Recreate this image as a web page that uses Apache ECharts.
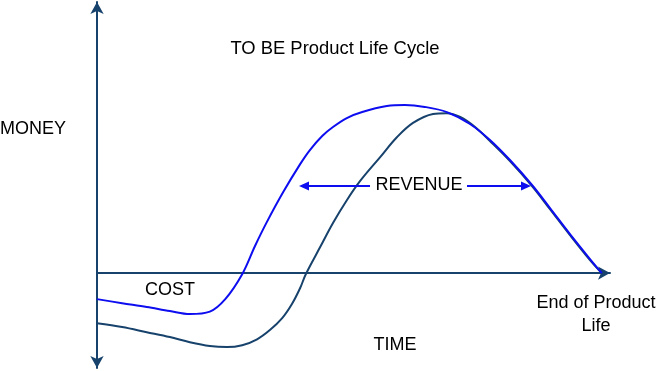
<!DOCTYPE html>
<html>
<head>
<meta charset="utf-8">
<script src="https://cdn.jsdelivr.net/npm/echarts@6/dist/echarts.min.js"></script>
<style>html,body{margin:0;padding:0;background:#fff}#c{width:658px;height:371px}</style>
</head>
<body>
<div id="c"></div>
<script>
// TO BE curve (blue): [time, money]
const toBeTime  = [0, 4.9, 9.7, 14.2, 18.1, 22.0, 25.0, 28.3, 30.8, 33.1, 36.3, 39.6, 41.5, 43.9, 46.0, 48.7, 51.7, 56.5, 60.0, 63.9, 68.2, 72.7, 76.6, 80.5, 84.8, 88.3, 92.2, 96.1, 98.4];
const toBeMoney = [-9.6, -11.1, -12.5, -14.0, -15.1, -14.2, -9.6, -0.4, 10.0, 18.8, 29.9, 40.2, 45.4, 50.6, 53.9, 57.2, 59.4, 61.6, 62.0, 61.3, 59.4, 55.0, 49.1, 41.7, 32.5, 24.0, 14.4, 5.2, 0];
// AS IS curve (dark navy): [time, money]
const asIsTime  = [0, 4.9, 9.7, 14.2, 18.1, 22.0, 25.3, 28.3, 31.2, 33.7, 36.1, 38.0, 39.6, 40.7, 43.5, 46.0, 48.7, 51.3, 55.2, 58.5, 61.6, 65.5, 68.2, 70.8, 73.7, 76.6, 80.5, 84.8, 88.3, 92.2, 96.1, 98.4];
const asIsMoney = [-18.5, -19.9, -21.8, -23.6, -25.5, -26.9, -27.3, -26.6, -24.4, -21.0, -16.6, -11.4, -5.5, -0.4, 9.6, 18.5, 26.9, 34.0, 42.8, 50.2, 55.4, 58.7, 59.0, 57.6, 53.9, 48.7, 41.3, 32.1, 23.6, 14.0, 4.8, 0];

const NAVY = '#17426c';
const BLUE = '#0d0df0';
const FONT = '"Liberation Sans", Arial, sans-serif';

const zip = (xs, ys) => xs.map((x, i) => [x, ys[i]]);

const chart = echarts.init(document.getElementById('c'), null, {renderer: 'canvas'});

function txt(x, y, s, align, size) {
  return {
    type: 'text', x: x, y: y, z: 10,
    style: {text: s, fill: '#000', font: (size || 18) + 'px ' + FONT, align: align || 'center', verticalAlign: 'middle', lineHeight: 23}
  };
}
function arrow(x1, x2, y) {
  const dir = x2 > x1 ? 1 : -1;
  const head = 10;
  return [
    {type: 'line', z: 10, shape: {x1: x1, y1: y, x2: x2 - dir * head, y2: y}, style: {stroke: BLUE, lineWidth: 2}},
    {type: 'polygon', z: 10, shape: {points: [[x2, y], [x2 - dir * head, y - 4.5], [x2 - dir * head, y + 4.5]]}, style: {fill: BLUE}}
  ];
}

chart.setOption({
  animation: false,
  grid: {left: 97, right: 48, top: 2, bottom: 3, containLabel: false},
  xAxis: {
    type: 'value', min: 0, max: 100,
    axisLine: {show: true, onZero: true, symbol: ['none', 'arrow'], symbolSize: [10, 12], lineStyle: {color: NAVY, width: 2}},
    axisTick: {show: false}, axisLabel: {show: false}, splitLine: {show: false}
  },
  yAxis: {
    type: 'value', min: -35, max: 100,
    axisLine: {show: true, onZero: false, symbol: ['arrow', 'arrow'], symbolSize: [10, 12], lineStyle: {color: NAVY, width: 2}},
    axisTick: {show: false}, axisLabel: {show: false}, splitLine: {show: false}
  },
  series: [
    {type: 'line', data: zip(asIsTime, asIsMoney), smooth: 0.35, symbol: 'none', lineStyle: {color: NAVY, width: 2}, z: 2},
    {type: 'line', data: zip(toBeTime, toBeMoney), smooth: 0.35, symbol: 'none', lineStyle: {color: BLUE, width: 2}, z: 3}
  ],
  graphic: [
    txt(335, 49, 'TO BE Product Life Cycle', 'center', 18.4),
    txt(0, 129, 'MONEY', 'left'),
    txt(419, 185, 'REVENUE'),
    txt(170, 290, 'COST'),
    txt(596, 315, 'End of Product\nLife'),
    txt(395, 345, 'TIME')
  ].concat(arrow(370, 299, 186), arrow(467, 531, 186))
});
</script>
</body>
</html>
